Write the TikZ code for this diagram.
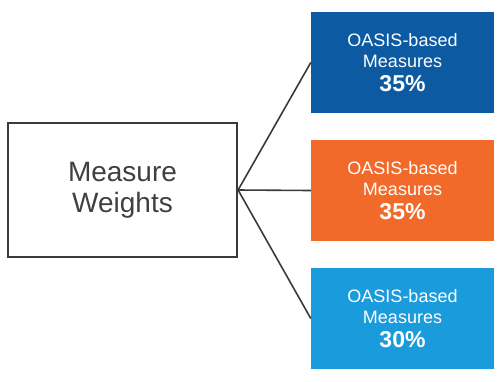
\documentclass[tikz,border=0pt]{standalone}
\usepackage{fontspec}
\setmainfont{Liberation Sans}
\definecolor{txtgray}{HTML}{404040}
\definecolor{dblue}{HTML}{0B5AA2}
\definecolor{orng}{HTML}{F26A2A}
\definecolor{lblue}{HTML}{1A9BDB}
\definecolor{linegray}{HTML}{3A3A3A}
\newcommand{\pct}[1]{{\fontsize{23}{27}\selectfont\bfseries #1}}
\begin{document}
\begin{tikzpicture}[x=1pt,y=1pt,
  mainbox/.style={draw=linegray,line width=2.2pt,fill=white,minimum width=229pt,minimum height=134pt,inner sep=0pt,align=center,text=txtgray,font=\fontsize{28}{31}\selectfont},
  wbox/.style={minimum width=183pt,minimum height=101pt,inner sep=0pt,align=center,text=white,font=\fontsize{18}{21}\selectfont},
  conn/.style={draw=linegray,line width=1.6pt}]
\useasboundingbox (0,0) rectangle (500,-381);
\node[mainbox] (mw) at (122.5,-190) {Measure\\Weights};
\node[wbox,fill=dblue] (b1) at (402.5,-62.5) {OASIS-based\\Measures\\[3pt]\pct{35\%}};
\node[wbox,fill=orng] (b2) at (402.5,-190.5) {OASIS-based\\Measures\\[3pt]\pct{35\%}};
\node[wbox,fill=lblue] (b3) at (402.5,-318.5) {OASIS-based\\Measures\\[3pt]\pct{30\%}};
\draw[conn] (mw.east) -- (b1.west);
\draw[conn] (mw.east) -- (b2.west);
\draw[conn] (mw.east) -- (b3.west);
\end{tikzpicture}
\end{document}
